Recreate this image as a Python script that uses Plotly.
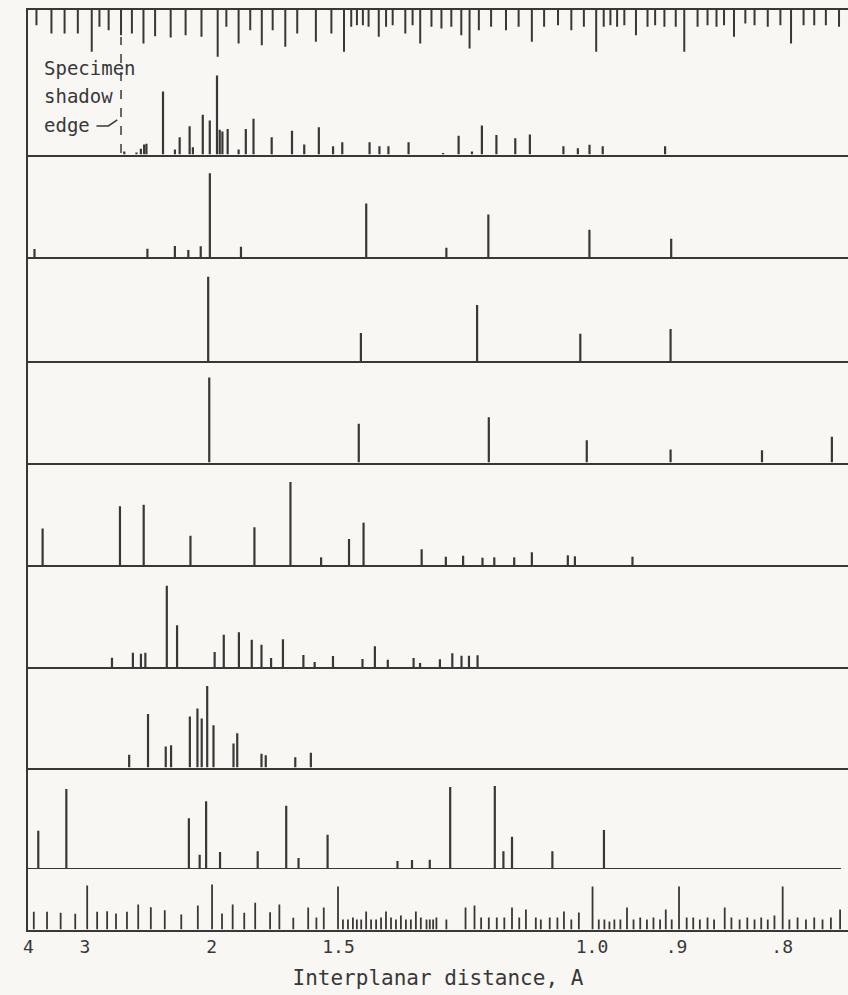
import plotly.graph_objects as go

# ---------------------------------------------------------------
# Data: reciprocal spacing q = 1/d (1/Angstrom) of each diffraction
# line and its relative intensity (0-100).
# ---------------------------------------------------------------
p1_q = [0.3850, 0.4010, 0.4068, 0.4111, 0.4141, 0.4359, 0.4516, 0.4578, 0.4709, 0.4752,
        0.4882, 0.4974, 0.5069, 0.5105, 0.5140, 0.5209, 0.5353, 0.5448, 0.5549, 0.5788,
        0.6055, 0.6216, 0.6408, 0.6595, 0.6716, 0.7075, 0.7205, 0.7323, 0.7588, 0.8042,
        0.8246, 0.8421, 0.8552, 0.8743, 0.8991, 0.9183, 0.9624, 0.9814, 0.9967, 1.0141,
        1.0961]
p1_i = [3.5, 2.4, 6.7, 11.8, 12.6, 74, 5.9, 20.4, 33.3, 8.6,
        46.7, 40, 93, 29, 27, 30, 5.9, 30, 42, 20.4,
        28, 11.8, 32, 9.8, 14.5, 14.5, 9.8, 9.8, 14.5, 1.8,
        22, 3.5, 34, 23, 19, 23.5, 9.8, 7.4, 11.4, 9.8,
        9.8]

p2_q = [0.2669, 0.4154, 0.4515, 0.4692, 0.4855, 0.4975, 0.5384, 0.7031, 0.8085, 0.8637,
        0.9966, 1.1041]
p2_i = [9.4, 9.8, 12.9, 8.2, 12.6, 98.5, 12.1, 63, 10.9, 50, 32, 21.5]

p3_q = [0.4953, 0.6961, 0.8489, 0.9846, 1.1033]
p3_i = [99, 33, 66, 32, 37.6]

p4_q = [0.4967, 0.6933, 0.8643, 0.9931, 1.1033, 1.2235, 1.3154]
p4_i = [100, 45.5, 53.3, 26.3, 15.3, 14.5, 30.2]

p5_q = [0.2776, 0.3793, 0.4105, 0.4720, 0.5561, 0.6035, 0.6438, 0.6805, 0.6996, 0.7760,
        0.8078, 0.8305, 0.8560, 0.8715, 0.8977, 0.9209, 0.9682, 0.9775, 1.0532]
p5_i = [43, 69, 71, 34.5, 44.3, 97.6, 9, 30.6, 49.8, 18.5,
        9.8, 10.9, 8.6, 9, 9, 15, 11.4, 10.2, 9.8]

p6_q = [0.3688, 0.3963, 0.4069, 0.4127, 0.4409, 0.4544, 0.5038, 0.5158, 0.5357, 0.5526,
        0.5654, 0.5780, 0.5936, 0.6205, 0.6353, 0.6594, 0.6982, 0.7145, 0.7315, 0.7654,
        0.7739, 0.8000, 0.8163, 0.8284, 0.8382, 0.8495]
p6_i = [11, 16.8, 15.6, 16.8, 95.6, 49, 17.6, 38, 40.8, 32,
        26.2, 10.6, 32.6, 14.1, 5.9, 12.9, 9.4, 24.4, 8.6, 10.6,
        4.7, 9, 16.1, 13.3, 13.3, 13.8]

p7_q = [0.3914, 0.4162, 0.4395, 0.4465, 0.4712, 0.4812, 0.4868, 0.4940, 0.5023, 0.5286,
        0.5335, 0.5654, 0.5710, 0.6098, 0.6303]
p7_i = [15, 63, 24.7, 26.2, 60, 69.4, 57.6, 96, 49.8, 28.2,
        40.4, 16.1, 14.5, 12.1, 17.3]

p8_q = [0.2719, 0.3088, 0.4699, 0.4841, 0.4926, 0.5109, 0.5604, 0.5979, 0.6141, 0.6523,
        0.7442, 0.7633, 0.7867, 0.8135, 0.8722, 0.8835, 0.8948, 0.9479, 1.0157]
p8_i = [45, 94, 59.6, 16.8, 79.6, 20, 20.8, 74.5, 12.9, 40.4,
        9.4, 10.6, 10.9, 96.5, 97.6, 20.8, 38, 20.8, 45.9]
p8_baseline_end_q = 1.3275

shadow_edge_q = 0.3807

# Top scale: tick positions (q) and tick lengths (px)
top_tick_q = [0.2695, 0.2892, 0.3065, 0.3239, 0.3422, 0.3523, 0.3644, 0.3807, 0.3950, 0.4102,
              0.4255, 0.4460, 0.4656, 0.4865, 0.5078, 0.5192, 0.5353, 0.5506, 0.5658, 0.5801,
              0.5967, 0.6124, 0.6369, 0.6573, 0.6739, 0.6834, 0.6909, 0.6987, 0.7062, 0.7196,
              0.7292, 0.7379, 0.7545, 0.7641, 0.7741, 0.7889, 0.8020, 0.8150, 0.8281, 0.8390,
              0.8512, 0.8673, 0.8869, 0.9035, 0.9209, 0.9370, 0.9553, 0.9728, 0.9893, 1.0055,
              1.0154, 1.0242, 1.0330, 1.0425, 1.0578, 1.0730, 1.0830, 1.0952, 1.1101, 1.1213,
              1.1388, 1.1519, 1.1637, 1.1736, 1.1867, 1.2016, 1.2137, 1.2311, 1.2477, 1.2617,
              1.2782, 1.2922, 1.3075, 1.3248]
top_tick_len = [15.7, 24, 24, 24, 42.3, 17.3, 20.7, 25.7, 24, 34,
                26.7, 28, 25.7, 27.3, 47.3, 17.3, 34, 20.7, 35.7, 20.7,
                37.3, 24, 32.3, 24, 42.3, 17.3, 15.7, 15.7, 17.3, 27.3,
                17.3, 15.7, 24, 15.7, 34, 17.3, 19, 17.3, 25.7, 39,
                20.7, 17.3, 20.7, 17.3, 32.3, 17.3, 15.7, 20.7, 17.3, 42.3,
                17.3, 15.7, 17.3, 15.7, 25.7, 17.3, 15.7, 17.3, 17.3, 42.3,
                17.3, 15.7, 17.3, 15.7, 27.3, 14, 15.7, 17.3, 15.7, 34,
                15.7, 15.7, 15.7, 17.3]

# Bottom scale: tick positions (q) and tick lengths (px)
bot_tick_q = [0.2660, 0.2834, 0.3013, 0.3205, 0.3362, 0.3493, 0.3624, 0.3741, 0.3885, 0.4033,
              0.4199, 0.4382, 0.4599, 0.4817, 0.5004, 0.5135, 0.5275, 0.5427, 0.5571, 0.5767,
              0.5889, 0.6072, 0.6268, 0.6376, 0.6473, 0.6660, 0.6725, 0.6791, 0.6856, 0.6908,
              0.6965, 0.7030, 0.7095, 0.7161, 0.7226, 0.7291, 0.7357, 0.7422, 0.7487, 0.7553,
              0.7618, 0.7684, 0.7749, 0.7824, 0.7867, 0.7911, 0.7954, 0.8085, 0.8337, 0.8455,
              0.8542, 0.8643, 0.8748, 0.8847, 0.8948, 0.9043, 0.9131, 0.9261, 0.9327, 0.9444,
              0.9545, 0.9631, 0.9728, 0.9827, 1.0007, 1.0089, 1.0163, 1.0229, 1.0294, 1.0373,
              1.0460, 1.0546, 1.0634, 1.0722, 1.0808, 1.0895, 1.0970, 1.1048, 1.1144, 1.1245,
              1.1331, 1.1418, 1.1519, 1.1605, 1.1745, 1.1833, 1.1941, 1.2042, 1.2137, 1.2225,
              1.2311, 1.2399, 1.2507, 1.2595, 1.2703, 1.2813, 1.2922, 1.3031, 1.3141, 1.3262]
bot_tick_len = [17.7, 17.7, 16.7, 15.7, 44, 17.7, 18.3, 16, 17.7, 25,
                22.3, 19.3, 15, 24, 45, 16, 25, 16.7, 26.7, 17.3,
                25, 11.7, 22, 12, 22, 43, 10, 10, 12, 10,
                10, 18, 10, 10, 12, 18, 12, 10, 14, 10,
                10, 18, 12, 10, 10, 10, 12, 10, 22, 24,
                12, 12, 12, 12, 22, 12, 20, 12, 10, 12,
                12, 18, 10, 17, 43, 10, 10, 8, 10, 10,
                22, 10, 12, 10, 12, 10, 20, 10, 43, 12,
                12, 10, 12, 10, 22, 12, 10, 12, 10, 12,
                10, 14, 43, 10, 12, 10, 12, 10, 12, 20]

# Axis labels: positions (q) and text (interplanar distance d, Angstrom)
label_q = [0.2590, 1 / 3, 1 / 2, 1 / 1.5, 1 / 1.0, 1 / 0.9, 1 / 0.8]
label_text = ["4", "3", "2", "1.5", "1.0", ".9", ".8"]

# ---------------------------------------------------------------
W, H = 848, 995
INK = "#383838"
BG = "#f8f7f4"
FONT = "DejaVu Sans Mono"
Q_MIN, Q_MAX = 0.2582, 1.3366
X_LEFT = 23 / W
PX_PER_UNIT = 0.85  # px per intensity unit

# rows: top scale, 8 patterns, bottom scale  (top px, bottom px)
rows = [(9.5, 60), (60, 154.5), (154.5, 257), (257, 361), (361, 462.5),
        (462.5, 565), (565, 667), (667, 767.5), (767.5, 869), (869, 929.5)]
patterns = [(p1_q, p1_i), (p2_q, p2_i), (p3_q, p3_i), (p4_q, p4_i),
            (p5_q, p5_i), (p6_q, p6_i), (p7_q, p7_i), (p8_q, p8_i)]


def sticks(xs, y0s, y1s):
    X, Y = [], []
    for x, a, b in zip(xs, y0s, y1s):
        X += [x, x, None]
        Y += [a, b, None]
    return X, Y


fig = go.Figure()
layout = {}
for k, (top, bot) in enumerate(rows, start=1):
    xn = "xaxis" if k == 1 else f"xaxis{k}"
    yn = "yaxis" if k == 1 else f"yaxis{k}"
    xr = "x" if k == 1 else f"x{k}"
    yr = "y" if k == 1 else f"y{k}"
    h_px = bot - top
    if k == 1:
        yrange = [-h_px, 0]
    elif k == len(rows):
        yrange = [0, h_px]
    else:
        yrange = [0, h_px / PX_PER_UNIT]
    xa = dict(domain=[X_LEFT, 1], range=[Q_MIN, Q_MAX], anchor=yr,
              showgrid=False, zeroline=False, showticklabels=False, ticks="",
              showline=True, linecolor=INK, linewidth=2, fixedrange=True)
    if k > 1:
        xa["matches"] = "x"
    if k == 1:
        xa["side"] = "top"
    if k == 9:
        xa["showline"] = False
    ya = dict(domain=[1 - bot / H, 1 - top / H], range=yrange, anchor=xr,
              showgrid=False, zeroline=False, showticklabels=False, ticks="",
              showline=True, linecolor=INK, linewidth=2, fixedrange=True)
    layout[xn] = xa
    layout[yn] = ya

    if k == 1:
        X, Y = sticks(top_tick_q, [0] * len(top_tick_q), [-v for v in top_tick_len])
        width = 2
    elif k == len(rows):
        X, Y = sticks(bot_tick_q, [0] * len(bot_tick_q), bot_tick_len)
        width = 1.8
    else:
        q, inten = patterns[k - 2]
        X, Y = sticks(q, [0] * len(q), inten)
        width = 2.2
    fig.add_trace(go.Scatter(x=X, y=Y, xaxis=xr, yaxis=yr, mode="lines",
                             line=dict(color=INK, width=width),
                             hoverinfo="skip", showlegend=False))

# bottom axis labels
layout["xaxis10"].update(
    showticklabels=True,
    tickmode="array",
    tickvals=label_q,
    ticktext=label_text,
    tickfont=dict(family=FONT, size=18, color=INK),
    title=dict(text="Interplanar distance, A",
               font=dict(family=FONT, size=21, color=INK), standoff=14),
)

fig.update_layout(**layout)

# baseline of the last pattern stops short of the right edge
fig.add_shape(type="line", xref="x9", yref="y9", x0=Q_MIN, x1=p8_baseline_end_q,
              y0=0, y1=0, line=dict(color=INK, width=2))

# specimen shadow edge (dashed)
fig.add_shape(type="line", xref="x2", yref="paper", x0=shadow_edge_q, x1=shadow_edge_q,
              y0=1 - 153 / H, y1=1 - 37 / H, line=dict(color=INK, width=1.5, dash="dash"))

# leader from "edge" to the dashed line
pts = [(92, 126), (104, 126), (113, 120)]
path = "M " + " L ".join(f"{x / W:.5f},{1 - y / H:.5f}" for x, y in pts)
fig.add_shape(type="path", xref="paper", yref="paper", path=path,
              line=dict(color=INK, width=1.5))

for word, yc in [("Specimen", 68), ("shadow", 96), ("edge", 125)]:
    fig.add_annotation(text=word, xref="paper", yref="paper",
                       x=37 / W, y=1 - yc / H, xanchor="left", yanchor="middle",
                       showarrow=False, font=dict(family=FONT, size=19, color=INK))

fig.update_layout(width=W, height=H, margin=dict(l=0, r=0, t=0, b=0),
                  paper_bgcolor=BG, plot_bgcolor=BG, showlegend=False)

fig.write_html("out.html", config={"displayModeBar": False},
               post_script="document.body.style.margin='0';document.body.style.background='%s';" % BG)
